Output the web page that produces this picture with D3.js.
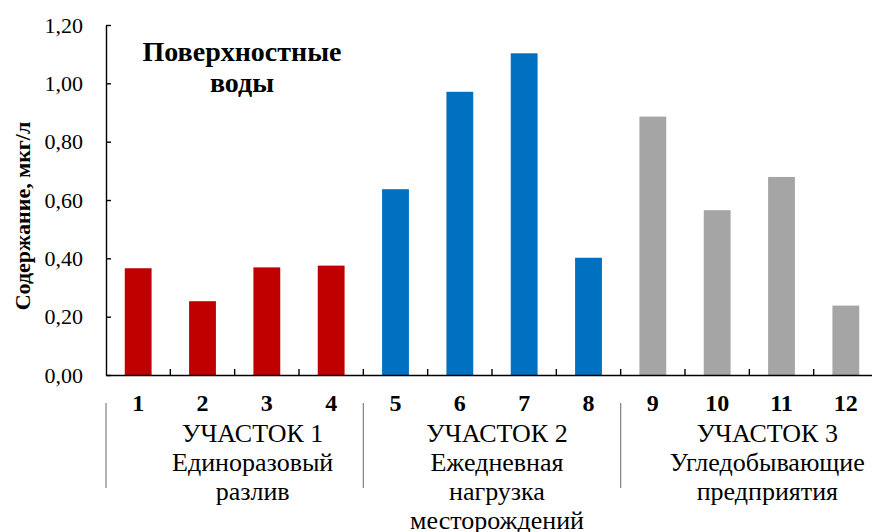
<!DOCTYPE html>
<html>
<head>
<meta charset="utf-8">
<script src="https://cdn.jsdelivr.net/npm/d3@7"></script>
<style>
  html, body { margin: 0; padding: 0; background: #fff; }
  svg { display: block; }
  text { font-family: "Liberation Serif", "Times New Roman", serif; fill: #000; }
</style>
</head>
<body>
<svg id="chart" width="872" height="532"></svg>
<script>
// ---- data ----
const categories = ["1","2","3","4","5","6","7","8","9","10","11","12"];
const values = [0.366, 0.253, 0.369, 0.375, 0.637, 0.971, 1.103, 0.402, 0.886, 0.565, 0.679, 0.238];
const groupOf = [0,0,0,0,1,1,1,1,2,2,2,2];
const groupNames = ["УЧАСТОК 1", "УЧАСТОК 2", "УЧАСТОК 3"];
const groupDescriptions = [
  ["Единоразовый", "разлив"],
  ["Ежедневная", "нагрузка", "месторождений"],
  ["Угледобывающие", "предприятия"]
];
const groupColors = ["#C00000", "#0070C0", "#A5A5A5"];
const yTicks = [0, 0.2, 0.4, 0.6, 0.8, 1.0, 1.2];
const chartTitle = ["Поверхностные", "воды"];
const yAxisTitle = "Содержание, мкг/л";

// ---- layout ----
const svg = d3.select("#chart");
const plotLeft = 106, plotRight = 878, plotTop = 25, plotBottom = 375;
const pad = 0.583;

const x = d3.scaleBand().domain(categories).range([plotLeft, plotRight])
  .paddingInner(pad).paddingOuter(pad / 2);
const y = d3.scaleLinear().domain([0, 1.2]).range([plotBottom, plotTop]);
const step = x.step();
const fmt = v => d3.format(".2f")(v).replace(".", ",");

// bars
svg.append("g").selectAll("rect").data(values).join("rect")
  .attr("x", (d, i) => x(categories[i]))
  .attr("y", d => y(d))
  .attr("width", x.bandwidth())
  .attr("height", d => y(0) - y(d))
  .attr("fill", (d, i) => groupColors[groupOf[i]]);

// y axis
const yAxis = svg.append("g").attr("transform", `translate(${plotLeft},0)`)
  .call(d3.axisLeft(y).tickValues(yTicks).tickFormat(fmt)
    .tickSizeInner(-5).tickSizeOuter(0).tickPadding(23));
yAxis.select(".domain").attr("stroke", "#000").attr("stroke-width", 1.4);
yAxis.selectAll(".tick line").attr("stroke", "#000").attr("stroke-width", 1.4);
yAxis.selectAll(".tick text").attr("font-size", 22)
  .attr("font-family", "Liberation Serif").attr("fill", "#000");

// x axis line with boundary ticks
const xAxis = svg.append("g").attr("transform", `translate(0,${plotBottom})`)
  .call(d3.axisBottom(x).tickSize(0).tickFormat(""));
xAxis.select(".domain").attr("stroke", "#000").attr("stroke-width", 1.4);
xAxis.selectAll(".tick").remove();
const boundaries = categories.slice(1).map(c => x(c) - step * pad / 2);
xAxis.selectAll("line.bt").data(boundaries).join("line").attr("class", "bt")
  .attr("x1", d => d).attr("x2", d => d).attr("y1", 0).attr("y2", -6)
  .attr("stroke", "#000").attr("stroke-width", 1.4);

// category numbers
svg.append("g").selectAll("text").data(categories).join("text")
  .attr("x", d => x(d) + x.bandwidth() / 2)
  .attr("y", 411)
  .attr("text-anchor", "middle")
  .attr("font-size", 24).attr("font-weight", "bold")
  .text(d => d);

// group separators
const groupStarts = groupNames.map((g, gi) => {
  const idx = groupOf.indexOf(gi);
  return x(categories[idx]) - step * pad / 2;
});
svg.append("g").selectAll("line").data(groupStarts).join("line")
  .attr("x1", d => d).attr("x2", d => d)
  .attr("y1", 403).attr("y2", 488)
  .attr("stroke", "#808080").attr("stroke-width", 1.2);

// group labels
const groupOffsets = [18, 5, 18];
groupNames.forEach((g, gi) => {
  const idxs = groupOf.map((v, i) => v === gi ? i : -1).filter(i => i >= 0);
  const gStart = x(categories[idxs[0]]) - step * pad / 2;
  const cx = gStart + step * idxs.length / 2 + groupOffsets[gi];
  const lines = [g].concat(groupDescriptions[gi]);
  const t = svg.append("text").attr("text-anchor", "middle").attr("font-size", 26);
  lines.forEach((ln, li) => {
    t.append("tspan").attr("x", cx).attr("y", 442 + li * 29).text(ln);
  });
});

// chart title
const tt = svg.append("text").attr("text-anchor", "middle")
  .attr("font-size", 28).attr("font-weight", "bold");
chartTitle.forEach((ln, i) => {
  tt.append("tspan").attr("x", 242).attr("y", 61 + i * 31).text(ln);
});

// y axis title
svg.append("text")
  .attr("transform", "translate(30,216) rotate(-90)")
  .attr("text-anchor", "middle")
  .attr("font-size", 22).attr("font-weight", "bold")
  .text(yAxisTitle);
</script>
</body>
</html>
